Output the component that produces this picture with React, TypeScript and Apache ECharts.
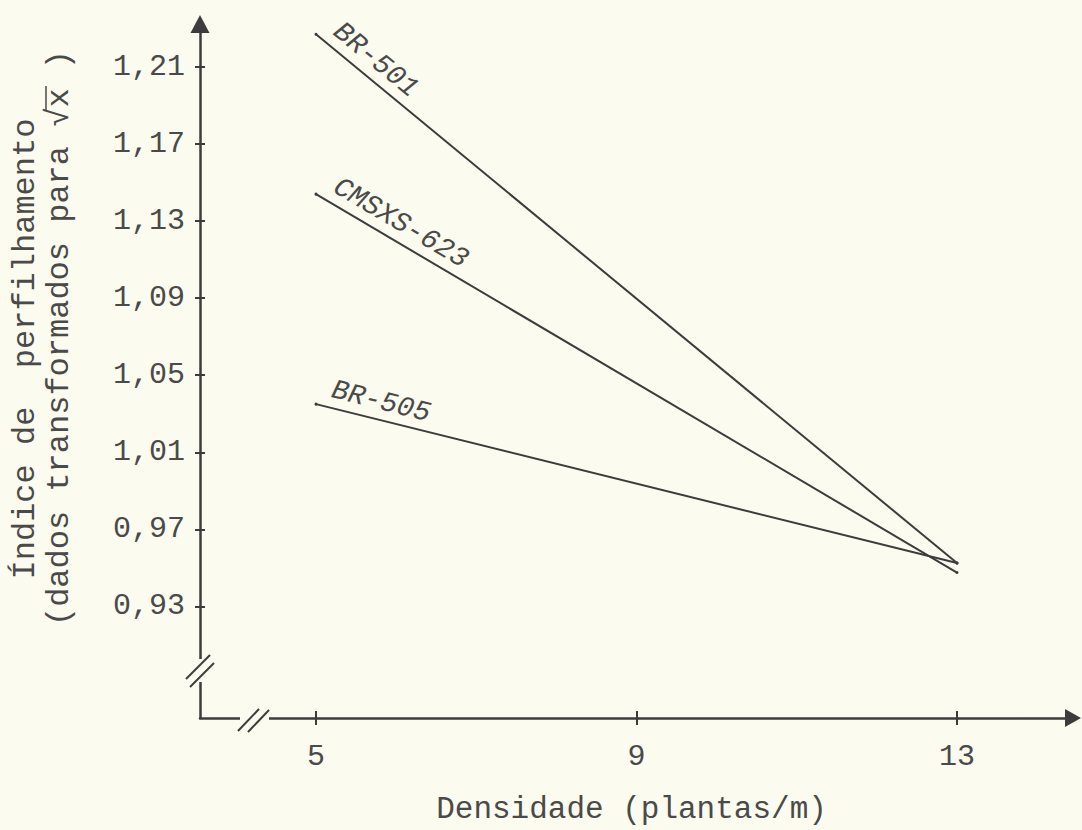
import React, { useEffect, useRef } from "react";
import * as echarts from "echarts";

// Densidade (plantas/m)
const densidade = [5, 13];
// Índice de perfilhamento (dados transformados para √x)
const br501 = [1.227, 0.9525];
const cmsxs623 = [1.144, 0.9476];
const br505 = [1.035, 0.9525];
const seriesNames = ["BR-501", "CMSXS-623", "BR-505"];
const labelAngles = [-39.5, -30.5, -14];

const yTicks = [0.93, 0.97, 1.01, 1.05, 1.09, 1.13, 1.17, 1.21];
const xTicks = [5, 9, 13];

const BG = "#fbfbef";
const INK = "#3c3c3c";
const TEXT = "#4a4a4a";
const FONT = "Liberation Mono";

export default function App() {
  const ref = useRef<HTMLDivElement>(null);
  useEffect(() => {
    if (!ref.current) return;
    const chart = echarts.init(ref.current, null, { renderer: "svg" });
    const yMin = 0.8721;
    const yMax = 1.2323;
    const xMin = 3.5523;
    const xMax = 14.448;

    const allSeries = [br501, cmsxs623, br505];
    const series = allSeries.map((vals, si) => ({
      type: "line",
      name: seriesNames[si],
      xAxisIndex: 0,
      yAxisIndex: 0,
      symbol: "circle",
      symbolSize: 3,
      showSymbol: true,
      lineStyle: { color: INK, width: 2 },
      itemStyle: { color: INK },
      data: densidade.map((x, i) =>
        i === 0
          ? {
              value: [x, vals[i]],
              label: {
                show: true,
                formatter: seriesNames[si],
                position: [1.5, 1.5],
                align: "left",
                verticalAlign: "bottom",
                rotate: labelAngles[si],
                padding: [0, 0, 4, 12],
                fontFamily: FONT,
                fontStyle: "italic",
                fontSize: 28,
                color: TEXT,
              },
            }
          : { value: [x, vals[i]], label: { show: false } }
      ),
    }));

    const option: any = {
      animation: false,
      backgroundColor: BG,
      grid: { left: 200, right: 9, top: 24, bottom: 112, containLabel: false },
      xAxis: [
        {
          type: "value",
          min: xMin,
          max: xMax,
          axisLine: {
            show: true,
            lineStyle: { color: INK, width: 2.5 },
            symbol: ["none", "triangle"],
            symbolSize: [18, 16],
          },
          axisTick: { show: true, length: 7, customValues: xTicks, lineStyle: { color: INK, width: 2 } },
          axisLabel: {
            show: true,
            customValues: xTicks,
            formatter: (v: number) => String(v),
            fontFamily: FONT,
            fontSize: 30,
            color: TEXT,
            margin: 24,
          },
          splitLine: { show: false },
          name: "Densidade (plantas/m)",
          nameLocation: "middle",
          nameGap: 76,
          nameTextStyle: { fontFamily: FONT, fontSize: 31, color: TEXT, padding: [0, 10, 0, 0] },
        },
        {
          type: "value",
          min: xMin,
          max: xMax,
          position: "bottom",
          axisLine: { show: false },
          axisTick: { show: true, inside: true, length: 7, customValues: xTicks, lineStyle: { color: INK, width: 2 } },
          axisLabel: { show: false },
          splitLine: { show: false },
        },
      ],
      yAxis: [
        {
          type: "value",
          min: yMin,
          max: yMax,
          axisLine: {
            show: true,
            lineStyle: { color: INK, width: 2.5 },
            symbol: ["none", "triangle"],
            symbolSize: [19, 18],
          },
          axisTick: { show: true, length: 5, customValues: yTicks, lineStyle: { color: INK, width: 2 } },
          axisLabel: {
            show: true,
            customValues: yTicks,
            formatter: (v: number) => v.toFixed(2).replace(".", ","),
            fontFamily: FONT,
            fontSize: 30,
            color: TEXT,
            margin: 15,
          },
          splitLine: { show: false },
        },
        {
          type: "value",
          min: yMin,
          max: yMax,
          position: "left",
          axisLine: { show: false },
          axisTick: { show: true, inside: true, length: 5, customValues: yTicks, lineStyle: { color: INK, width: 2 } },
          axisLabel: { show: false },
          splitLine: { show: false },
        },
      ],
      graphic: [
        // axis break on the y axis
        { type: "rect", z: 100, shape: { x: 193, y: 659, width: 14, height: 23 }, style: { fill: BG } },
        { type: "line", z: 101, shape: { x1: 186, y1: 679, x2: 210, y2: 655 }, style: { stroke: INK, lineWidth: 2 } },
        { type: "line", z: 101, shape: { x1: 190, y1: 687, x2: 214, y2: 663 }, style: { stroke: INK, lineWidth: 2 } },
        // axis break on the x axis
        { type: "rect", z: 100, shape: { x: 240, y: 712, width: 29, height: 12 }, style: { fill: BG } },
        { type: "line", z: 101, shape: { x1: 238, y1: 731, x2: 259, y2: 709 }, style: { stroke: INK, lineWidth: 2 } },
        { type: "line", z: 101, shape: { x1: 248, y1: 732, x2: 269, y2: 710 }, style: { stroke: INK, lineWidth: 2 } },
        // y axis title (two lines)
        {
          type: "text",
          z: 100,
          x: 25,
          y: 349,
          rotation: Math.PI / 2,
          style: {
            text: "Índice de  perfilhamento",
            fontFamily: FONT,
            fontSize: 32,
            fill: TEXT,
            align: "center",
            verticalAlign: "middle",
          },
        },
        {
          type: "text",
          z: 100,
          x: 59,
          y: 338,
          rotation: Math.PI / 2,
          style: {
            text: "(dados transformados para √x )",
            fontFamily: FONT,
            fontSize: 32,
            fill: TEXT,
            align: "center",
            verticalAlign: "middle",
          },
        },
        // radical overline
        { type: "line", z: 101, shape: { x1: 46, y1: 86, x2: 46, y2: 110 }, style: { stroke: TEXT, lineWidth: 1.5 } },
      ],
      series,
    };
    chart.setOption(option);
    return () => chart.dispose();
  }, []);
  return (
    <div
      ref={ref}
      style={{ position: "fixed", left: 0, top: 0, width: 1082, height: 830, background: BG }}
    />
  );
}
